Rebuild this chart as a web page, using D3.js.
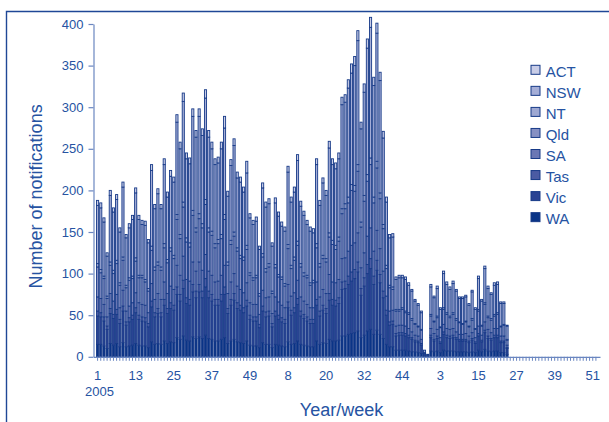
<!DOCTYPE html>
<html><head><meta charset="utf-8">
<script src="https://cdn.jsdelivr.net/npm/d3@7"></script>
<style>
body{margin:0;background:#fff}
svg{display:block;font-family:"Liberation Sans",Arial,Helvetica,sans-serif}
</style>
</head><body>
<svg id="chart" width="609" height="422"></svg>
<script>
// ---- data (weekly notifications by state, 2005 week 1 onwards) ----
const states = ["ACT","NSW","NT","Qld","SA","Tas","Vic","WA"];
const years = [2005, 2006, 2007];
const weeksPerYear = [53, 53, 52];
const yTicks = [0,50,100,150,200,250,300,350,400];
const xTickWeeks = ["1","13","25","37","49","8","20","32","44","3","15","27","39","51"];

const WA  = [15,15,13,10,16,14,16,12,17,12, 13,14,16,14,13,13,11,18,15,16, 15,19,16,18,17,23,21,25,20,19, 24,22,24,22,26,22,21,19,19,21, 23,16,19,21,18,17,16,19,14,13, 13,11,17,15,15,11,15,14,13,12, 18,15,16,19,15,14,13,12,12,19, 15,17,16,21,19,19,20,25,25,27, 28,29,31,23,26,31,33,27,32,27, 22,15,12,12,8,8,8,8,7,6, 6,5,4,1,0,7,6,7,5,8, 7,7,7,6,6,6,6,5,6,5, 8,6,9,7,6,7,7,5,5,3];
const Vic = [34,33,30,23,36,32,35,28,38,26, 29,31,37,31,30,29,25,42,33,36, 33,43,36,40,39,52,46,57,44,43, 54,49,54,49,58,49,46,43,43,46, 52,36,43,47,40,39,37,42,31,30, 30,24,38,33,34,25,34,31,29,28, 41,35,37,44,34,32,30,28,28,43, 34,39,36,47,43,42,44,56,57,60, 63,65,71,51,59,69,73,60,72,62, 49,35,26,27,17,18,18,17,16,15, 12,12,10,2,1,16,13,15,11,19, 16,15,16,15,13,13,13,12,14,11, 17,12,20,15,14,16,16,12,12,7];
const Tas = [6,5,5,4,6,5,6,5,6,4, 5,5,6,5,5,5,4,7,5,6, 5,7,6,7,6,9,8,10,7,7, 9,8,9,8,10,8,8,7,7,8, 9,6,7,8,7,6,6,7,5,5, 5,4,6,6,6,4,6,5,5,5, 7,6,6,7,6,5,5,5,5,7, 6,6,6,8,7,7,7,9,9,10, 11,11,12,8,10,11,12,10,12,10, 8,6,4,4,3,3,3,3,3,2, 2,2,2,0,0,3,2,3,2,3, 3,3,3,2,2,2,2,2,2,2, 3,2,3,3,2,3,3,2,2,1];
const SA  = [17,17,15,11,18,16,18,14,19,13, 14,15,18,15,15,15,13,21,16,18, 16,21,18,20,19,26,23,29,22,22, 27,24,27,25,29,24,23,21,22,23, 26,18,21,24,20,19,18,21,15,15, 15,12,19,17,17,12,17,16,15,14, 21,17,18,22,17,16,15,14,14,21, 17,19,18,23,21,21,22,28,28,30, 32,32,35,25,30,34,37,30,36,31, 24,17,13,13,9,9,9,9,8,7, 6,6,5,1,0,8,7,8,5,9, 8,8,8,7,6,6,7,6,7,5, 9,6,10,8,7,8,8,6,6,3];
const Qld = [36,31,31,22,34,33,37,27,36,28, 31,29,38,30,32,28,26,40,35,34, 35,41,37,42,37,55,44,59,45,41, 56,47,52,51,60,47,48,41,45,44, 55,34,45,45,42,37,39,40,33,29, 32,22,40,31,36,24,35,30,31,26, 43,33,39,42,36,30,32,27,30,41, 36,37,38,45,45,40,46,54,59,58, 66,62,74,49,62,66,76,58,75,60, 51,33,28,25,18,17,19,16,17,14, 13,11,11,1,1,15,14,14,12,18, 17,14,17,14,14,12,14,11,15,10, 18,11,21,14,15,15,17,11,13,6];
const NT  = [4,4,3,3,4,4,4,3,4,3, 3,3,4,3,3,3,3,5,4,4, 4,5,4,4,4,6,5,6,5,5, 6,5,6,5,6,5,5,5,5,5, 6,4,5,5,4,4,4,5,3,3, 3,3,4,4,4,3,4,3,3,3, 5,4,4,5,4,4,3,3,3,5, 4,4,4,5,5,5,5,6,6,7, 7,7,8,6,7,8,8,7,8,7, 5,4,3,3,2,2,2,2,2,2, 1,1,1,0,0,2,1,2,1,2, 2,2,2,2,1,1,1,1,2,1, 2,1,2,2,2,2,2,1,1,1];
const NSW = [70,74,65,48,80,70,73,61,84,57, 60,68,78,67,61,65,55,91,70,82, 70,95,75,86,88,111,103,121,95,95, 113,109,117,106,122,109,99,95,92,103, 104,79,90,104,84,88,78,87,66,64, 65,53,79,74,72,54,74,70,61,63, 87,76,78,97,69,69,61,62,57,95, 70,87,76,102,91,92,94,125,122,131, 134,144,149,112,124,152,157,134,154,135, 104,76,57,60,36,38,36,38,33,33, 27,25,20,3,1,33,28,33,21,41, 34,32,35,33,28,30,29,25,32,23, 37,29,41,33,29,35,34,27,25,16];
const ACT = [6,6,5,4,6,5,6,5,6,4, 5,5,6,5,5,5,4,7,5,6, 5,7,6,7,6,9,8,10,7,7, 9,8,9,8,10,8,8,7,7,8, 14,6,7,8,7,6,6,14,5,5, 5,4,6,6,6,4,6,5,5,5, 7,6,6,7,6,5,5,5,5,7, 6,6,6,8,7,7,7,9,9,10, 11,11,12,8,10,11,12,10,12,10, 8,6,4,4,3,3,3,3,3,2, 2,2,2,0,0,3,2,3,2,3, 3,3,3,2,2,2,2,2,2,2, 3,2,3,3,2,3,3,2,2,1];

const seriesData = {ACT, NSW, NT, Qld, SA, Tas, Vic, WA};
const colors = {ACT:"#c9cde7", NSW:"#a5aed7", NT:"#9ea8d2", Qld:"#8690c3", SA:"#6a77b4", Tas:"#4b5ba3", Vic:"#2a4393", WA:"#0a3487"};

// categories: every week on the axis
const categories = [];
years.forEach((yr, yi) => { for (let w = 1; w <= weeksPerYear[yi]; w++) categories.push(yr + "-" + w); });

const rows = ACT.map((_, i) => {
  const r = {cat: categories[i]};
  states.forEach(s => r[s] = seriesData[s][i]);
  return r;
});

// ---- layout ----
const svg = d3.select("#chart");
const textCol = "#2653a2", axisCol = "#6a86c0", strokeCol = "#173a88";
const mLeft = 93.5, mRight = 600, mTop = 24, mBottom = 356.8;

// frame
svg.append("path").attr("d", "M6.5,430 V11.5 H620").attr("fill","none").attr("stroke","#1f4796").attr("stroke-width",1.4);

const x = d3.scaleBand().domain(categories).range([mLeft, mRight]).paddingInner(0.33).paddingOuter(0.95);
const y = d3.scaleLinear().domain([0, 400]).range([mBottom, mTop]);

// bars
const stackOrder = ["WA","Vic","Tas","SA","Qld","NT","NSW","ACT"];
const stacked = d3.stack().keys(stackOrder)(rows);
const g = svg.append("g");
stacked.forEach(layer => {
  g.append("g").attr("fill", colors[layer.key]).attr("stroke", strokeCol).attr("stroke-width", 0.9)
    .selectAll("rect").data(layer.filter(d => d[1] > d[0])).join("rect")
    .attr("x", d => x(d.data.cat)).attr("width", x.bandwidth())
    .attr("y", d => y(d[1])).attr("height", d => y(d[0]) - y(d[1]));
});

// y axis
const yAxis = svg.append("g").attr("transform", `translate(${mLeft},0)`)
  .call(d3.axisLeft(y).tickValues(yTicks).tickSize(5).tickSizeOuter(0).tickPadding(5));
yAxis.select(".domain").attr("stroke", axisCol).attr("stroke-width", 1.2);
yAxis.selectAll(".tick line").attr("stroke", axisCol).attr("stroke-width", 1.2);
yAxis.selectAll("text").attr("fill", textCol).attr("font-size", 13).attr("font-family", "Liberation Sans, Arial, sans-serif");

// x axis with a small tick for every week
const xAxis = svg.append("g").attr("transform", `translate(0,${mBottom})`)
  .call(d3.axisBottom(x).tickSize(4).tickSizeOuter(0).tickFormat(""));
xAxis.select(".domain").attr("stroke", axisCol).attr("stroke-width", 1.2);
xAxis.selectAll(".tick line").attr("stroke", axisCol).attr("stroke-width", 1);
xAxis.selectAll("text").remove();

const labelCats = xTickWeeks.map((w, k) => categories[k * 12]);
svg.append("g").selectAll("text").data(labelCats).join("text")
  .attr("x", d => x(d) + x.bandwidth() / 2).attr("y", mBottom + 23.5)
  .attr("text-anchor", "middle").attr("fill", textCol).attr("font-size", 13)
  .text((d, k) => xTickWeeks[k]);
svg.append("text").attr("x", x(categories[0]) + x.bandwidth() / 2 + 2).attr("y", mBottom + 39.5)
  .attr("text-anchor", "middle").attr("fill", textCol).attr("font-size", 13).text(String(years[0]));

// titles
svg.append("text").attr("transform", `translate(41.5,${(mTop + mBottom) / 2 + 6}) rotate(-90)`)
  .attr("text-anchor", "middle").attr("fill", textCol).attr("font-size", 18).text("Number of notifications");
svg.append("text").attr("x", 341.5).attr("y", 416).attr("text-anchor", "middle")
  .attr("fill", textCol).attr("font-size", 18).text("Year/week");

// legend
const leg = svg.append("g").attr("transform", "translate(531,65.3)");
const li = leg.selectAll("g").data(states).join("g").attr("transform", (d, i) => `translate(0,${i * 21.05})`);
li.append("rect").attr("width", 9).attr("height", 9).attr("fill", d => colors[d]).attr("stroke", strokeCol).attr("stroke-width", 1);
li.append("text").attr("x", 14.7).attr("y", 11.4).attr("fill", textCol).attr("font-size", 15).text(d => d);
</script>
</body></html>
